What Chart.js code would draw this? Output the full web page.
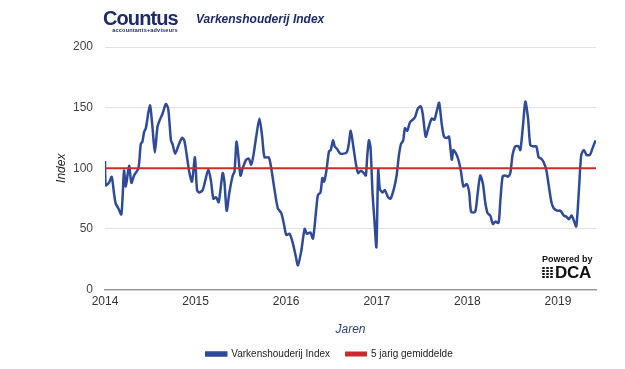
<!DOCTYPE html>
<html>
<head>
<meta charset="utf-8">
<title>Varkenshouderij Index</title>
<script src="https://cdn.jsdelivr.net/npm/chart.js@4.4.1/dist/chart.umd.min.js"></script>
<style>
    body { margin: 0; background: #fff; font-family: "Liberation Sans", Arial, sans-serif; }
    #wrap { position: relative; width: 625px; height: 369px; }
    .logo { position: absolute; left: 103px; top: 9px; color: #1d2b6b; font-weight: bold;
            font-size: 20px; letter-spacing: -0.9px; line-height: 19px; }
    .logo small { display: block; font-size: 5.5px; letter-spacing: 0.2px; line-height: 5px;
                  text-align: right; font-weight: bold; }
    .title { position: absolute; left: 196px; top: 12px; color: #1d2b6b; font-weight: bold;
             font-style: italic; font-size: 12px; }
    .dca { position: absolute; left: 542px; top: 254px; color: #111; }
    .dca .by { font-size: 9px; font-weight: bold; }
    .dca .name { display: flex; align-items: center; margin-top: 1px; }
    .dca .grid { display: grid; grid-template-columns: repeat(3, 3px); gap: 1px; margin-right: 2px; }
    .dca .grid i { width: 3px; height: 2px; background: #111; border-radius: 1px; }
    .dca .txt { font-size: 17px; font-weight: 900; letter-spacing: -0.3px; line-height: 15px; }
</style>
</head>
<body>
<div id="wrap">
    <canvas id="indexChart"></canvas>
    <div class="logo">Countus<small>accountants+adviseurs</small></div>
    <div class="title">Varkenshouderij Index</div>
    <div class="dca">
        <div class="by">Powered by</div>
        <div class="name">
            <div class="grid"><i></i><i></i><i></i><i></i><i></i><i></i><i></i><i></i><i></i><i></i><i></i><i></i></div>
            <div class="txt">DCA</div>
        </div>
    </div>
</div>
<script>
// weekly index (decimal years)
const indexYears = [
    2014.000, 2014.008, 2014.044, 2014.074, 2014.100, 2014.118, 2014.147, 2014.181, 2014.210, 2014.229,
    2014.266, 2014.291, 2014.321, 2014.369, 2014.395, 2014.413, 2014.432, 2014.451, 2014.495, 2014.524,
    2014.550, 2014.579, 2014.606, 2014.635, 2014.672, 2014.698, 2014.728, 2014.745, 2014.775, 2014.812,
    2014.849, 2014.875, 2014.900, 2014.930, 2014.960, 2014.993, 2015.016, 2015.041, 2015.078, 2015.104,
    2015.141, 2015.171, 2015.196, 2015.226, 2015.255, 2015.299, 2015.318, 2015.343, 2015.373, 2015.410,
    2015.429, 2015.454, 2015.495, 2015.520, 2015.558, 2015.587, 2015.614, 2015.639, 2015.669, 2015.705,
    2015.735, 2015.761, 2015.808, 2015.835, 2015.872, 2015.908, 2015.946, 2015.975, 2016.001, 2016.038,
    2016.074, 2016.104, 2016.130, 2016.167, 2016.204, 2016.229, 2016.267, 2016.296, 2016.333, 2016.351,
    2016.378, 2016.400, 2016.418, 2016.444, 2016.473, 2016.492, 2016.517, 2016.536, 2016.561, 2016.599,
    2016.666, 2016.691, 2016.713, 2016.739, 2016.769, 2016.794, 2016.824, 2016.857, 2016.879, 2016.894,
    2016.913, 2016.931, 2016.953, 2016.976, 2016.996, 2017.016, 2017.034, 2017.064, 2017.090, 2017.126,
    2017.153, 2017.189, 2017.219, 2017.245, 2017.267, 2017.292, 2017.311, 2017.337, 2017.367, 2017.396,
    2017.422, 2017.452, 2017.485, 2017.507, 2017.540, 2017.569, 2017.607, 2017.636, 2017.662, 2017.688,
    2017.718, 2017.743, 2017.773, 2017.798, 2017.828, 2017.846, 2017.876, 2017.901, 2017.928, 2017.957,
    2017.994, 2018.020, 2018.042, 2018.086, 2018.112, 2018.142, 2018.172, 2018.197, 2018.223, 2018.252,
    2018.282, 2018.308, 2018.344, 2018.363, 2018.389, 2018.419, 2018.449, 2018.474, 2018.499, 2018.529,
    2018.566, 2018.585, 2018.615, 2018.640, 2018.670, 2018.695, 2018.732, 2018.762, 2018.787, 2018.814,
    2018.843, 2018.873, 2018.898, 2018.928, 2018.953, 2018.991, 2019.028, 2019.064, 2019.094, 2019.120,
    2019.150, 2019.175, 2019.202, 2019.230, 2019.257, 2019.286, 2019.316, 2019.352, 2019.379, 2019.415
];
const indexValues = [
    106, 86, 88, 93, 79, 71, 67, 62, 98, 85,
    102, 88, 94, 100, 120, 122, 130, 133, 152, 134,
    113, 134, 140, 145, 153, 149, 123, 120, 112, 119,
    125, 123, 112, 97, 89, 109, 82, 80, 82, 89,
    99, 89, 75, 76, 72, 96, 89, 65, 80, 94,
    97, 122, 94, 100, 107, 108, 103, 111, 126, 141,
    126, 109, 109, 100, 82, 67, 63, 54, 45, 46,
    38, 28, 20, 32, 50, 46, 47, 42, 67, 78,
    80, 92, 89, 98, 114, 115, 123, 118, 116, 112,
    113, 120, 131, 119, 104, 96, 98, 96, 94, 109,
    123, 117, 80, 55, 35, 99, 83, 80, 82, 76,
    75, 83, 94, 111, 120, 123, 133, 131, 138, 140,
    142, 149, 151, 145, 126, 133, 141, 140, 147, 154,
    136, 126, 125, 126, 107, 115, 112, 107, 98, 85,
    87, 80, 64, 64, 78, 94, 87, 72, 63, 61,
    54, 56, 55, 72, 93, 94, 93, 96, 111, 118,
    118, 115, 136, 155, 141, 119, 118, 118, 109, 108,
    105, 98, 86, 72, 67, 65, 65, 61, 60, 58,
    61, 57, 52, 80, 111, 115, 111, 111, 116, 123
];
// 5 jarig gemiddelde
const avgYears = [2014, 2019.42];
const avgValues = [100, 100];
const yearTicks = [2014, 2015, 2016, 2017, 2018, 2019];

const toPoints = (xs, ys) => xs.map((x, i) => ({ x: x, y: ys[i] }));

new Chart(document.getElementById("indexChart"), {
    type: 'line',
    data: {
        datasets: [{
            label: 'Varkenshouderij Index',
            data: toPoints(indexYears, indexValues),
            borderColor: '#2f4a99',
            backgroundColor: '#2f4a99',
            borderWidth: 2.5,
            pointRadius: 0,
            tension: 0.25,
            order: 1
        }, {
            label: '5 jarig gemiddelde',
            data: toPoints(avgYears, avgValues),
            borderColor: '#cc2b2b',
            backgroundColor: '#cc2b2b',
            borderWidth: 2,
            pointRadius: 0,
            order: 0
        }]
    },
    options: {
        responsive: true,
        maintainAspectRatio: false,
        animation: false,
        layout: { padding: { top: 47, right: 29, left: 63, bottom: 0 } },
        plugins: {
            tooltip: { enabled: false },
            legend: {
                position: 'bottom',
                labels: {
                    boxWidth: 20,
                    boxHeight: 3,
                    padding: 16,
                    color: '#222',
                    font: { family: 'Liberation Sans', size: 10 },
                    sort: (a, b) => a.datasetIndex - b.datasetIndex
                }
            }
        },
        scales: {
            x: {
                type: 'linear',
                min: 2014,
                max: 2019.42,
                afterBuildTicks: (scale) => { scale.ticks = yearTicks.map(v => ({ value: v })); },
                afterFit: (scale) => { scale.height = 43.5; },
                grid: { display: false, drawTicks: false },
                border: { display: true, color: '#999', width: 1.5 },
                ticks: {
                    padding: 5,
                    color: '#333',
                    font: { family: 'Liberation Sans', size: 12 },
                    callback: (v) => String(v)
                },
                title: {
                    display: true,
                    text: 'Jaren',
                    color: '#2e3f8f',
                    font: { family: 'Liberation Sans', size: 12, style: 'italic' },
                    padding: { top: 0, bottom: -4 }
                }
            },
            y: {
                min: 0,
                max: 200,
                afterFit: (scale) => { scale.width = 42; },
                grid: { color: '#e2e2e2', drawTicks: false },
                border: { display: false },
                ticks: {
                    stepSize: 50,
                    padding: 12,
                    color: '#444',
                    font: { family: 'Liberation Sans', size: 12 }
                },
                title: {
                    display: true,
                    text: 'Index',
                    color: '#222',
                    font: { family: 'Liberation Sans', size: 12, style: 'italic' },
                    padding: { top: -9, bottom: 0 }
                }
            }
        }
    }
});
</script>
</body>
</html>
